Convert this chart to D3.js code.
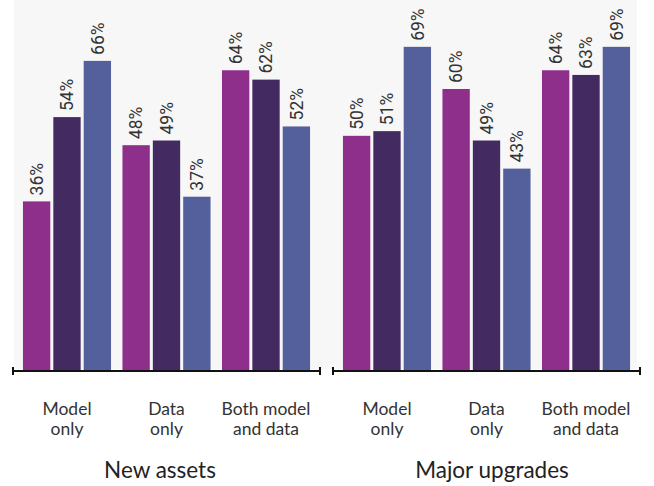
<style>body { margin: 0; } svg { display: block; }</style>
<svg width="654" height="486"></svg>

<script src="https://d3js.org/d3.v7.min.js"></script>

<script>
var svg = d3.select("svg"),
    width = +svg.attr("width"),
    height = +svg.attr("height");

var panels = ["New assets", "Major upgrades"];
var groups = ["Model only", "Data only", "Both model and data"];
var groupLines = [["Model", "only"], ["Data", "only"], ["Both model", "and data"]];
var series = ["a", "b", "c"];
var newAssets = [[36, 54, 66], [48, 49, 37], [64, 62, 52]];
var majorUpgrades = [[50, 51, 69], [60, 49, 43], [64, 63, 69]];
var panelData = [newAssets, majorUpgrades];

var colors = ["#8f2f8c", "#432a61", "#53609c"];
var color = d3.scaleOrdinal().domain(series).range(colors);

var baseline = 370;
var panelRanges = [[13, 320], [333, 640]];
var titleX = [160, 492];

var y = d3.scaleLinear().domain([0, 79]).range([baseline, 0]);

// background
svg.append("rect")
    .attr("x", 14).attr("y", 0)
    .attr("width", 623).attr("height", baseline - 1)
    .attr("fill", "#f7f7f7");

panels.forEach(function(name, p) {
  var x0 = d3.scaleBand().domain(groups).range(panelRanges[p])
      .paddingInner(0.115).paddingOuter(0.1);
  var x1 = d3.scaleBand().domain(series).range([0, x0.bandwidth()])
      .paddingInner(0.1);

  var g = svg.append("g");

  var grp = g.selectAll(".grp")
    .data(panelData[p])
    .enter().append("g")
      .attr("transform", function(d, i) { return "translate(" + x0(groups[i]) + ",0)"; });

  grp.selectAll("rect")
    .data(function(d) { return d; })
    .enter().append("rect")
      .attr("x", function(d, i) { return x1(series[i]); })
      .attr("y", function(d) { return y(d); })
      .attr("width", x1.bandwidth())
      .attr("height", function(d) { return baseline - y(d); })
      .attr("fill", function(d, i) { return color(series[i]); });

  grp.selectAll("text")
    .data(function(d) { return d; })
    .enter().append("text")
      .attr("transform", function(d, i) {
        return "translate(" + (x1(series[i]) + x1.bandwidth() / 2) + "," + (y(d) - 6) + ") rotate(-90)";
      })
      .attr("dy", "0.36em")
      .style("font-family", "Roboto, 'Liberation Sans', sans-serif")
      .style("font-size", "17.5px")
      .attr("fill", "#333")
      .text(function(d) { return d + "%"; });

  // axis
  var axis = g.append("g").attr("transform", "translate(0," + (baseline + 1) + ")");
  axis.append("line")
      .attr("x1", panelRanges[p][0]).attr("x2", panelRanges[p][1])
      .attr("stroke", "#111").attr("stroke-width", 2);
  panelRanges[p].forEach(function(px) {
    axis.append("line")
        .attr("x1", px).attr("x2", px).attr("y1", -4).attr("y2", 4)
        .attr("stroke", "#111").attr("stroke-width", 2);
  });

  // category labels
  groups.forEach(function(c, i) {
    var t = g.append("text")
        .attr("x", x0(c) + x0.bandwidth() / 2)
        .attr("y", 415)
        .attr("text-anchor", "middle")
        .style("font-family", "Lato, sans-serif")
        .style("font-size", "17.5px")
        .attr("fill", "#333");
    groupLines[i].forEach(function(line, k) {
      t.append("tspan")
          .attr("x", x0(c) + x0.bandwidth() / 2)
          .attr("dy", k ? 20 : 0)
          .text(line);
    });
  });

  g.append("text")
      .attr("x", titleX[p])
      .attr("y", 478)
      .attr("text-anchor", "middle")
      .style("font-family", "Lato, sans-serif")
      .style("font-size", "22.5px")
      .attr("fill", "#222")
      .text(name);
});
</script>
